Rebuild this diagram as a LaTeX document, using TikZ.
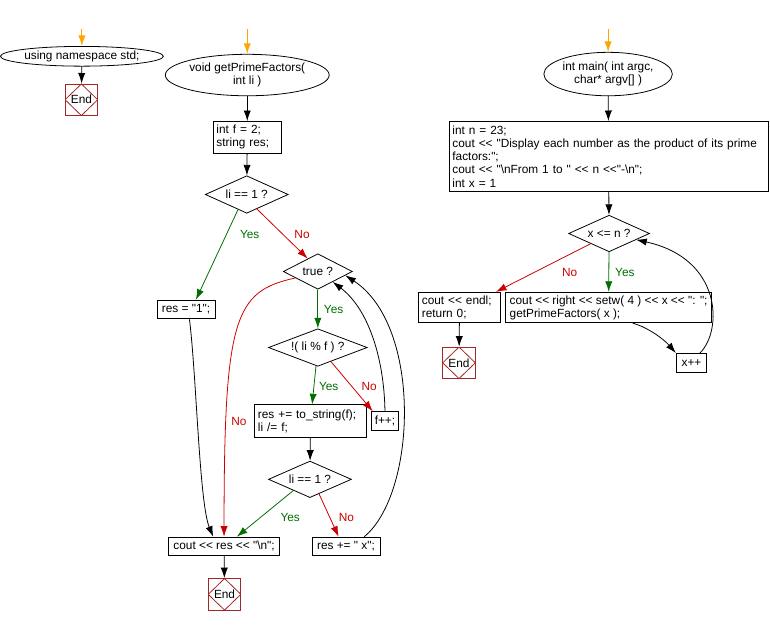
\documentclass[tikz,border=0pt]{standalone}
\usepackage{fontspec}
\setmainfont{Liberation Sans}[Ligatures=TeXOff]
\usetikzlibrary{shapes.geometric,arrows.meta}
\definecolor{yesgreen}{RGB}{0,110,0}
\definecolor{nored}{RGB}{204,0,0}
\definecolor{startorange}{RGB}{255,165,0}
\definecolor{endred}{RGB}{160,40,40}
\begin{document}
\begin{tikzpicture}[x=.75pt,y=-.75pt,line width=.6pt,font=\fontsize{9}{10}\selectfont,
  arr/.style={-{Latex[length=8pt,width=5.5pt]}}, yes/.style={arr,yesgreen}, no/.style={arr,nored}, entry/.style={arr,startorange,line width=.9pt},
  box/.style={draw,inner xsep=2.5pt,inner ysep=2pt,align=left},
  dec/.style={draw,diamond,aspect=2.2,inner sep=0pt},
  term/.style={draw,ellipse,inner sep=0pt,align=center},
  endbox/.style={draw=endred,minimum width=24.75pt,minimum height=24pt,inner sep=0pt,path picture={\draw[endred] (path picture bounding box.north)--(path picture bounding box.east)--(path picture bounding box.south)--(path picture bounding box.west)--cycle;}}]
\fill[white] (0,0) rectangle (770,633);
\node[term,minimum width=102pt,minimum height=15pt] (ns) at (73,57) {using namespace std;};
\node[endbox] (e1) at (72.5,101) {End};
\node[term,minimum width=107.25pt,minimum height=31.5pt] (fn) at (240.5,76) {void getPrimeFactors(\\ int li )};
\node[box,text width=46.75pt,minimum height=24pt] (init) at (240.5,139) {int f = 2;\\string res;};
\node[dec,minimum width=63pt,minimum height=28.5pt] (q1) at (240,197) {li == 1 ?};
\node[box,align=center,minimum width=44.25pt,minimum height=14.25pt] (res1) at (178.5,313.5) {res = "1";};
\node[dec,minimum width=52.5pt,minimum height=27pt] (qt) at (312,275) {true ?};
\node[dec,minimum width=75pt,minimum height=28.5pt] (qm) at (312,352) {!( li \% f ) ?};
\node[box,text width=79.75pt,minimum height=24.75pt] (body) at (304.5,426.5) {res += to\_string(f);\\li /= f;};
\node[box,align=center,minimum width=21pt,minimum height=14.25pt] (finc) at (380,426.5) {f++;};
\node[dec,minimum width=63pt,minimum height=27.75pt] (q2) at (304,485.5) {li == 1 ?};
\node[box,align=center,minimum width=84pt,minimum height=14.25pt] (prt) at (217,553.5) {cout << res << "\textbackslash n";};
\node[box,align=center,minimum width=51.75pt,minimum height=14.25pt] (resx) at (340.5,553.5) {res += " x";};
\node[endbox] (e2) at (217.5,602) {End};
\node[term,minimum width=87pt,minimum height=33pt] (mfn) at (606,75) {int main( int argc,\\ char* argv[] )};
\node[box,text width=237.25pt,minimum height=53.25pt] (mbox) at (606.5,158.5) {int n = 23;\\cout << "Display each number as the product of its prime\\factors:";\\cout << "\textbackslash nFrom 1 to " << n <<"-\textbackslash n";\\int x = 1};
\node[dec,minimum width=61.5pt,minimum height=27.75pt] (qx) at (607,236.5) {x <= n ?};
\node[box,text width=57.25pt,minimum height=23.25pt] (fin) at (455.5,311.5) {cout << endl;\\return 0;};
\node[box,minimum width=156.75pt,minimum height=23.25pt] (call) at (606.5,311.5) {cout << right << setw( 4 ) << x << ": ";\\getPrimeFactors( x );};
\node[box,align=center,minimum width=23.25pt,minimum height=14.25pt] (xinc) at (690.5,367.5) {x++};
\node[endbox] (e3) at (455,367.5) {End};
\coordinate (s1) at (73,29); \coordinate (s2) at (240.5,29); \coordinate (s3) at (606,29);
\draw[entry] (s1)--(ns.north); \draw[arr] (ns)--(e1);
\draw[entry] (s2)--(fn.north); \draw[arr] (fn)--(init); \draw[arr] (init)--(q1);
\draw[yes] (q1.240)--([xshift=7.5pt]res1.north); \draw[no] (q1.305)--(qt.128);
\draw[yes] (qt)--(qm); \draw[yes] (qm)--(body); \draw[no] (qm.-47)--([xshift=1.5pt]finc.north west);
\draw[arr] (finc.north) .. controls (379,360) and (362,312) .. (qt.-35);
\draw[arr] (body)--(q2);
\draw[yes] (q2.214)--([xshift=9.75pt]prt.north); \draw[no] (q2.-58)--([xshift=-5.6pt]resx.north);
\draw[arr] ([xshift=13.9pt]resx.north) .. controls (412,500) and (418,330) .. (qt.-8);
\draw[no] (qt.196) .. controls (228,295) and (217,320) .. (prt.north);
\draw[arr] ([xshift=2.6pt]res1.south) .. controls (189,380) and (192,510) .. ([xshift=-8.25pt]prt.north);
\draw[arr] (prt)--(e2);
\draw[entry] (s3)--(mfn.north); \draw[arr] (mfn)--(mbox); \draw[arr] (mbox)--(qx);
\draw[yes] (qx)--(call); \draw[no] (qx.209)--([xshift=-3.75pt]fin.north east);
\draw[arr] ([xshift=18.4pt]call.south) .. controls (645,331) and (662,343) .. (xinc.north west);
\draw[arr] ([xshift=6.4pt]xinc.north) .. controls (722,335) and (722,262) .. (qx.-13);
\draw[arr] (fin)--(e3);
\node[yesgreen] (l1) at (243,237) {Yes}; \node[nored] (l2) at (296,237) {No};
\node[yesgreen] (l3) at (328,313) {Yes};
\node[yesgreen] (l4) at (323,391) {Yes}; \node[nored] (l5) at (364,391) {No};
\node[nored] (l6) at (232,427) {No};
\node[yesgreen] (l7) at (284,524) {Yes}; \node[nored] (l8) at (341,524) {No};
\node[nored] (l9) at (567,276) {No}; \node[yesgreen] (l10) at (623,276) {Yes};
\end{tikzpicture}
\end{document}
